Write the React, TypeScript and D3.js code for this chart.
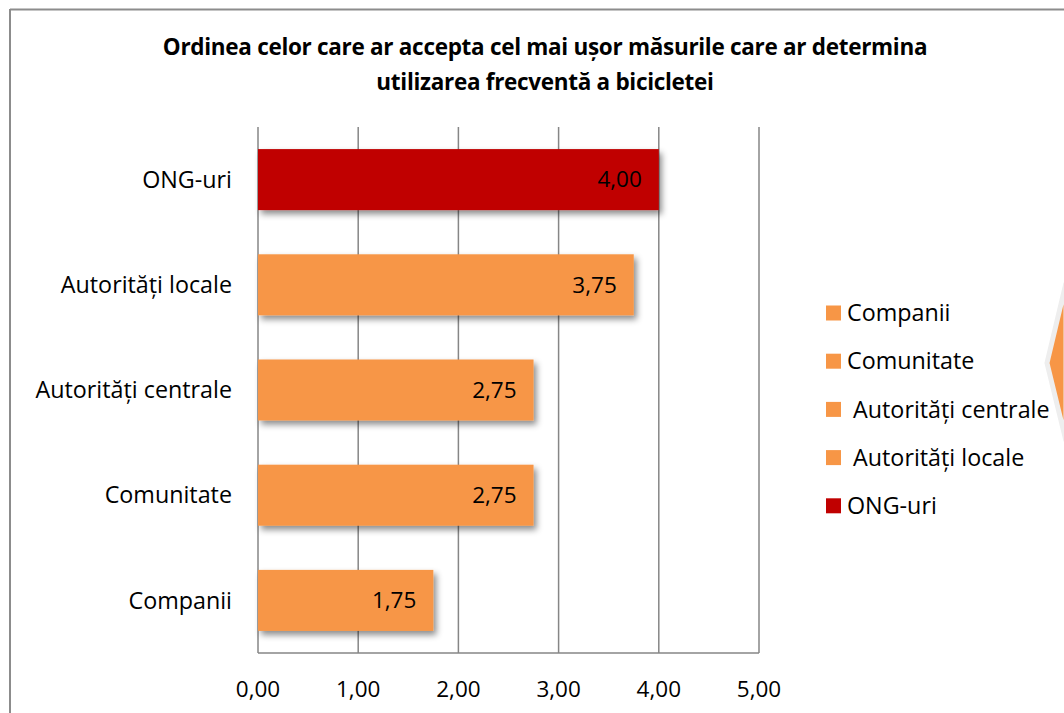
import React from "react";
import * as d3 from "d3";

const categories = ["ONG-uri", "Autorități locale", "Autorități centrale", "Comunitate", "Companii"];
const values = [4.0, 3.75, 2.75, 2.75, 1.75];
const barColors = ["#C00000", "#F79646", "#F79646", "#F79646", "#F79646"];
const legendItems = ["Companii", "Comunitate", " Autorități centrale", " Autorități locale", "ONG-uri"];
const legendColors = ["#F79646", "#F79646", "#F79646", "#F79646", "#C00000"];
const xTicks = [0, 1, 2, 3, 4, 5];
const titleLines = [
  "Ordinea celor care ar accepta cel mai ușor măsurile care ar determina",
  "utilizarea frecventă a bicicletei",
];

const W = 1064;
const H = 713;
const FONT = "'Open Sans', Lato, sans-serif";

export default function App() {
  const x = d3.scaleLinear().domain([0, 5]).range([258, 759]);
  const y = d3.scaleBand<string>().domain(categories).range([127, 653]).paddingInner(0.42).paddingOuter(0.21);
  const fmt = (v: number) => v.toFixed(2).replace(".", ",");
  const grid = "#868686";
  const LBL = 23.3;
  const NUM = 22.5;

  return (
    <svg width={W} height={H} style={{ position: "absolute", left: 0, top: 0 }} fontFamily={FONT}>
      <defs>
        <filter id="sh" x="-10%" y="-20%" width="130%" height="160%">
          <feDropShadow dx="3" dy="4" stdDeviation="3" floodColor="#000" floodOpacity="0.45" />
        </filter>
      </defs>
      <rect x={0} y={0} width={W} height={H} fill="#fff" />
      {/* chart border */}
      <line x1={10} y1={9.5} x2={W} y2={9.5} stroke="#8c8c8c" strokeWidth={2} />
      <line x1={10} y1={9} x2={10} y2={H} stroke="#8c8c8c" strokeWidth={2} />
      {/* decorative shape at right edge */}
      <polygon points="1066,283 1047,363 1066,441" fill="#F79646" stroke="#eeeeee" strokeWidth={5} />

      {/* title */}
      {titleLines.map((t, i) => (
        <text key={i} x={545} y={55 + i * 34.5} textAnchor="middle" fontWeight="bold" fontSize={22.5} fill="#000" letterSpacing={-0.3}>
          {t}
        </text>
      ))}

      {/* gridlines */}
      {xTicks.map((t) => (
        <line key={t} x1={x(t)} x2={x(t)} y1={127} y2={653} stroke={grid} strokeWidth={1.5} />
      ))}
      <line x1={x(0)} x2={x(5)} y1={653} y2={653} stroke={grid} strokeWidth={1.5} />

      {/* bars */}
      {categories.map((c, i) => (
        <g key={c}>
          <rect
            x={x(0)}
            y={y(c)!}
            width={x(values[i]) - x(0)}
            height={y.bandwidth()}
            fill={barColors[i]}
            filter="url(#sh)"
          />
          <text
            x={x(values[i]) - 17}
            y={y(c)! + y.bandwidth() / 2}
            dy="0.35em"
            textAnchor="end"
            fontSize={NUM}
            fill="#000"
          >
            {fmt(values[i])}
          </text>
          <text x={232} y={y(c)! + y.bandwidth() / 2} dy="0.35em" textAnchor="end" fontSize={LBL} fill="#000">
            {c}
          </text>
        </g>
      ))}

      {/* x tick labels */}
      {xTicks.map((t) => (
        <text key={t} x={x(t)} y={689} dy="0.35em" textAnchor="middle" fontSize={NUM} fill="#000">
          {fmt(t)}
        </text>
      ))}

      {/* legend */}
      {legendItems.map((l, i) => (
        <g key={i} transform={`translate(826, ${313 + i * 48.2})`}>
          <rect x={0} y={-7.5} width={15} height={15} fill={legendColors[i]} />
          <text x={21} y={0} dy="0.35em" fontSize={LBL} fill="#000" style={{ whiteSpace: "pre" }}>
            {l}
          </text>
        </g>
      ))}
    </svg>
  );
}
